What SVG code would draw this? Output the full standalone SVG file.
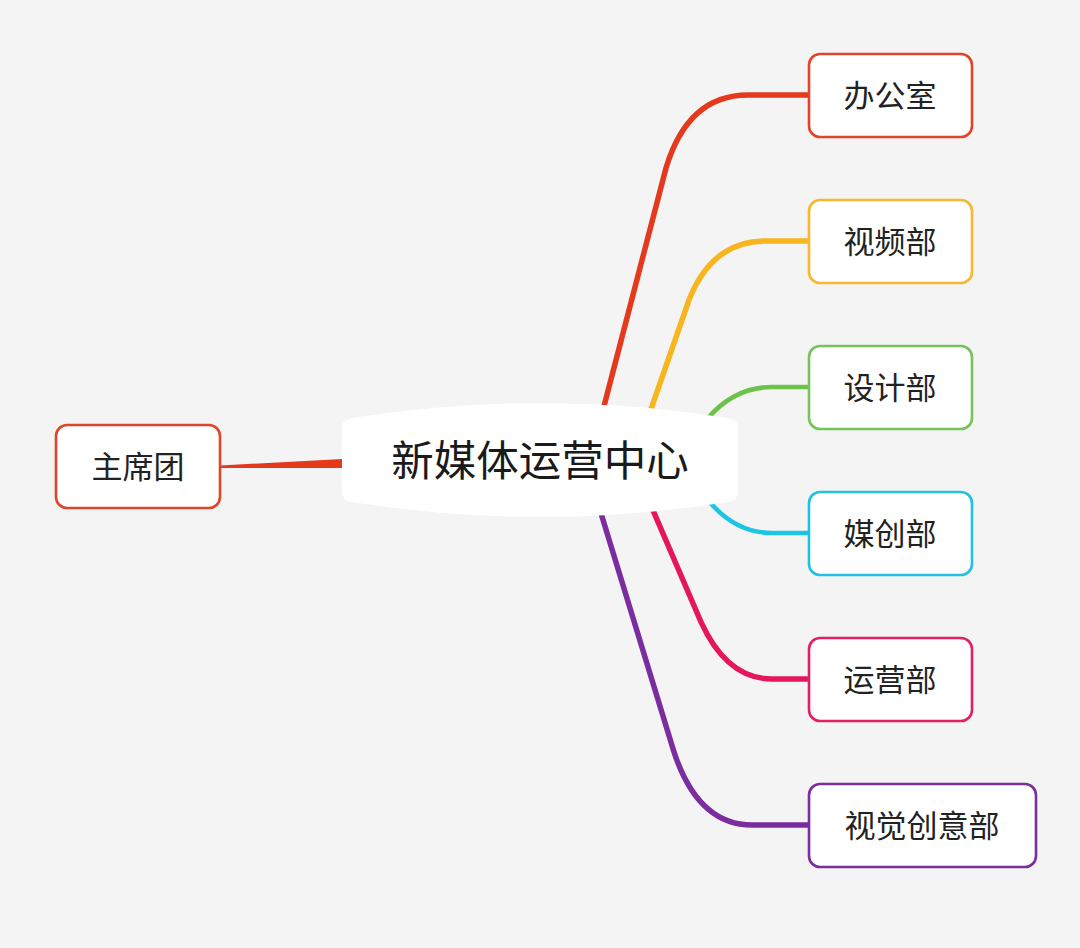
<svg xmlns="http://www.w3.org/2000/svg" width="1080" height="948" viewBox="0 0 1080 948">
<style>
.bg{fill:#f4f4f4}
.box{fill:#fff;stroke-width:2.6}
.lbl{font-family:"Noto Sans CJK SC","Liberation Sans",sans-serif;font-size:31px;fill:#222;text-anchor:middle;dominant-baseline:central}
.main{font-family:"Noto Sans CJK SC","Liberation Sans",sans-serif;font-size:42.5px;fill:#1a1a1a;text-anchor:middle;dominant-baseline:central}
.c{fill:none;stroke-linecap:round;stroke-linejoin:round}
.d{stroke-width:5.5}
.e{stroke-width:4.5}
</style>
<rect class="bg" x="0" y="0" width="1080" height="948"/>
<g id="connectors">
  <path d="M220 465.5 L342 459 L342 468 L220 468 Z" fill="#e4391c"/>
  <path class="c d" stroke="#e4391c" d="M603 410 L666 168 Q688 95 748 95 L809 95"/>
  <path class="c d" stroke="#f7b520" d="M650 412 L689 300 Q712 241 766 241 L809 241"/>
  <path class="c e" stroke="#6cc24a" d="M708 418 Q735 387 772 387 L809 387"/>
  <path class="c e" stroke="#1bc5e5" d="M708 500 Q735 533 772 533 L809 533"/>
  <path class="c d" stroke="#e4175c" d="M652 508 L701 622 Q727 679 772 679 L809 679"/>
  <path class="c d" stroke="#7b2da0" d="M600 510 L674 752 Q698 825 752 825 L809 825"/>
</g>
<g id="center">
  <path d="M342 428 Q342 420 352 418 Q540 388 728 418 Q738 420 738 428 L738 492 Q738 500 728 502 Q540 532 352 502 Q342 500 342 492 Z" fill="#fff"/>
  <text class="main" x="540" y="457">新媒体运营中心</text>
</g>
<g id="zhuxituan">
  <rect class="box" x="56" y="425" width="164" height="83" rx="11" stroke="#e0452a"/>
  <text class="lbl" x="138" y="464">主席团</text>
</g>
<g id="bangongshi">
  <rect class="box" x="809" y="54" width="163" height="83" rx="11" stroke="#e0452a"/>
  <text class="lbl" x="890" y="93">办公室</text>
</g>
<g id="shipinbu">
  <rect class="box" x="809" y="200" width="163" height="83" rx="11" stroke="#f7b731"/>
  <text class="lbl" x="890" y="239">视频部</text>
</g>
<g id="shejibu">
  <rect class="box" x="809" y="346" width="163" height="83" rx="11" stroke="#76c25b"/>
  <text class="lbl" x="890" y="385">设计部</text>
</g>
<g id="meichuangbu">
  <rect class="box" x="809" y="492" width="163" height="83" rx="11" stroke="#22c1e4"/>
  <text class="lbl" x="890" y="531">媒创部</text>
</g>
<g id="yunyingbu">
  <rect class="box" x="809" y="638" width="163" height="83" rx="11" stroke="#e2225f"/>
  <text class="lbl" x="890" y="677">运营部</text>
</g>
<g id="shijuechuangyibu">
  <rect class="box" x="809" y="784" width="227" height="83" rx="11" stroke="#7c2d9e"/>
  <text class="lbl" x="922" y="823">视觉创意部</text>
</g>
</svg>
